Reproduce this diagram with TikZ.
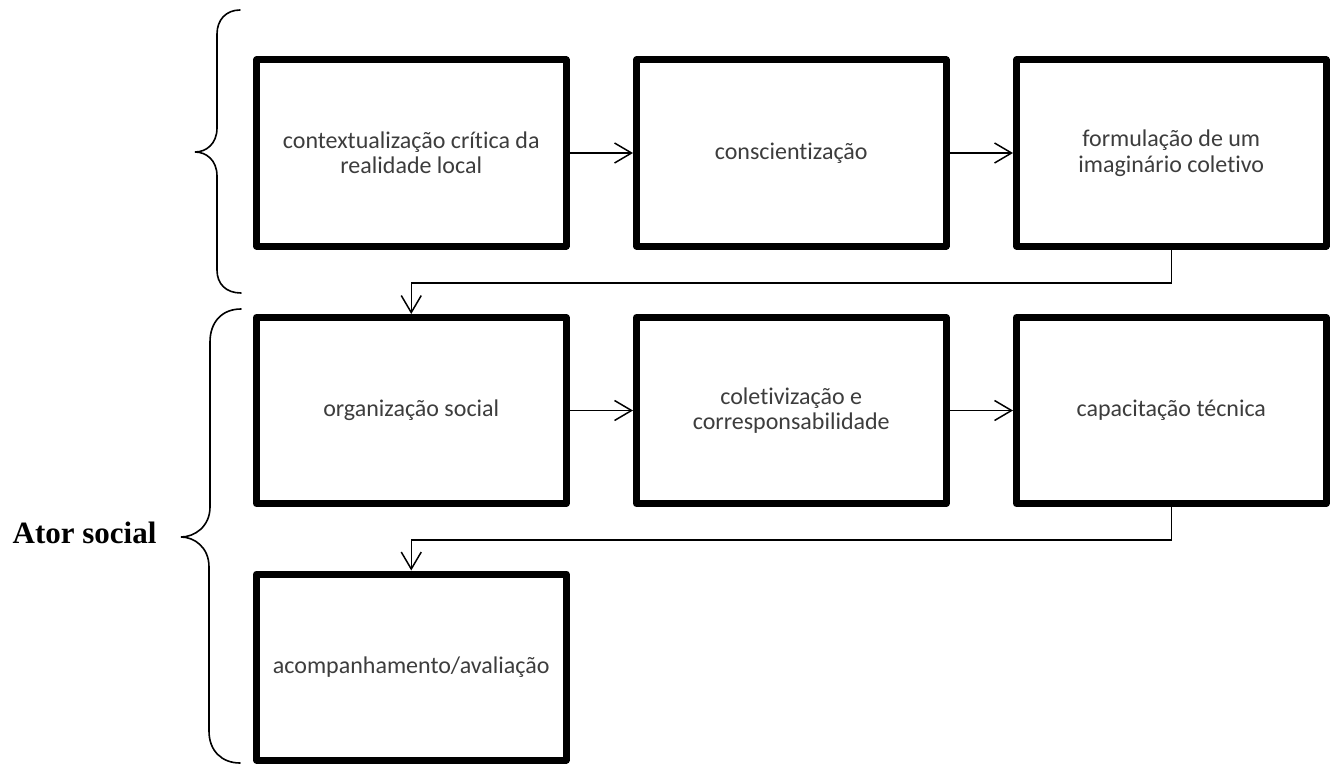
\documentclass[tikz,border=0pt]{standalone}
\usepackage{fontspec}
\setmainfont[Ligatures=NoCommon]{Carlito}
\newfontfamily\serifbold{Liberation Serif}
\usetikzlibrary{arrows.meta,shadows}
\begin{document}
\begin{tikzpicture}[x=1pt,y=-1pt,
  box/.style={draw=black, line width=7pt, fill=white, minimum width=309.5pt,
    minimum height=186pt, inner sep=0pt, align=center,
    font=\fontsize{24}{25.5}\selectfont, text=black!76, line join=round,
    drop shadow={shadow xshift=2.5pt, shadow yshift=-2.5pt, opacity=0.25, fill=black}},
  conn/.style={line width=1.5pt, -{Straight Barb[length=17pt,width=20pt,line width=1.5pt]}},
  bracepath/.style={line width=1.6pt, line cap=round}]
\useasboundingbox (0,0) rectangle (1335,765);
% row 1
\node[box] (b1) at (411.25,153) {contextualização crítica da\\realidade local};
\node[box] (b2) at (791.25,153) {conscientização};
\node[box] (b3) at (1171.25,153) {formulação de um\\imaginário coletivo};
% row 2
\node[box] (b4) at (411.25,410.5) {organização social};
\node[box] (b5) at (791.25,410.5) {coletivização e\\corresponsabilidade};
\node[box] (b6) at (1171.25,410.5) {capacitação técnica};
% row 3
\node[box] (b7) at (411.25,667) {acompanhamento/avaliação};
% connectors
\coordinate (k1) at (791.25,283);
\coordinate (k2) at (791.25,540);
\draw[conn] (b1) -- (b2);
\draw[conn] (b2) -- (b3);
\draw[conn] (b3.south) |- (k1) -| (b4.north);
\draw[conn] (b4) -- (b5);
\draw[conn] (b5) -- (b6);
\draw[conn] (b6.south) |- (k2) -| (b7.north);
% braces
\draw[bracepath] (240,10) .. controls (226,10) and (217,20) .. (217,34)
  -- (217,128) .. controls (217,144) and (206,152) .. (195,152)
  .. controls (206,152) and (217,160) .. (217,176)
  -- (217,270) .. controls (217,284) and (226,293) .. (241,293);
\draw[bracepath] (241,309) .. controls (222,309) and (210,322) .. (210,342)
  -- (210,507) .. controls (210,527) and (194,537) .. (181,537)
  .. controls (194,537) and (209,547) .. (209,567)
  -- (209,731) .. controls (209,751) and (222,763) .. (240,763);
% label
\node[anchor=base east, font=\serifbold\bfseries\fontsize{31}{36}\selectfont] (lbl) at (160,543) {Ator social};
\end{tikzpicture}
\end{document}
